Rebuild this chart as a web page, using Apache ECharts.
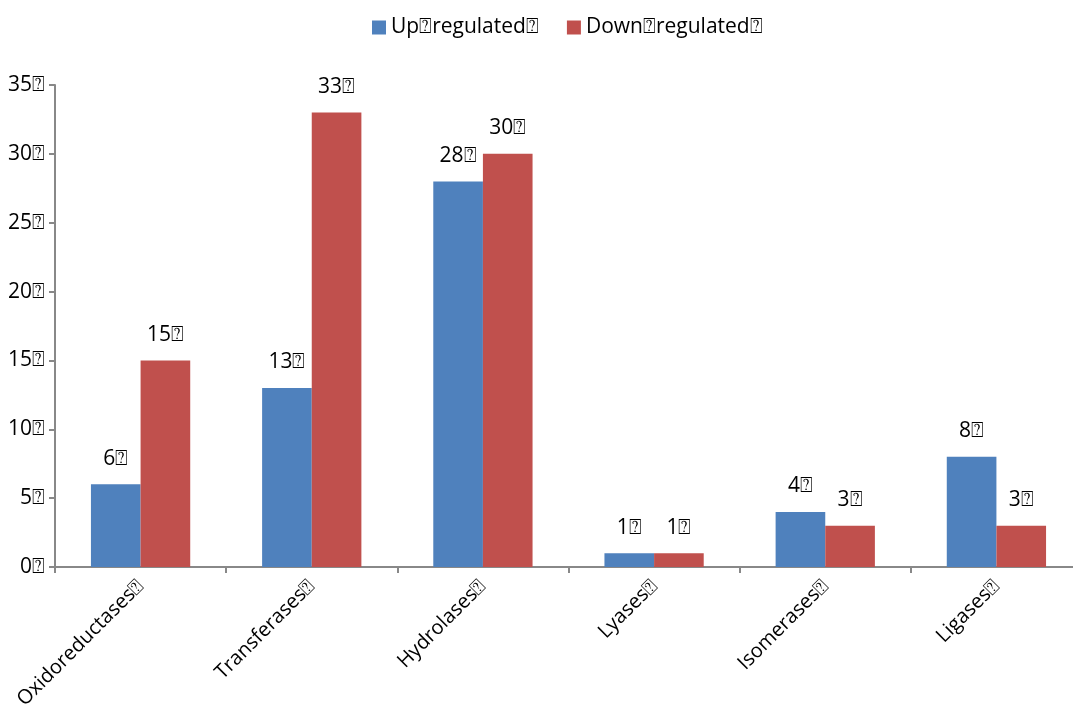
<!DOCTYPE html>
<html lang="en">
  <head>
    <meta charset="UTF-8" />
    <title>Enzyme classes</title>
    <style>
      body {
        margin: 0;
        width: 1073px;
        height: 724px;
        overflow: hidden;
        background-color: #ffffff;
      }
      /* the x axis runs past the right edge of the picture */
      #bar-1 {
        width: 1082px;
        height: 724px;
      }
    </style>
  </head>
  <body>
    <div id="bar-1"></div>
    <script src="https://cdn.jsdelivr.net/npm/echarts@6/dist/echarts.min.js"></script>
    <script>
      const box = "\u2370";
      const categories = ["Oxidoreductases", "Transferases", "Hydrolases", "Lyases", "Isomerases", "Ligases"];
      const upValues = [6, 13, 28, 1, 4, 8];
      const downValues = [15, 33, 30, 1, 3, 3];
      const seriesNames = ["Up" + box + "regulated" + box, "Down" + box + "regulated" + box];

      const font = "'Open Sans', 'DejaVu Sans', sans-serif";
      const axisColor = "#888888";

      const labelStyle = {
        show: true,
        position: "top",
        distance: 15,
        color: "#000",
        fontSize: 21,
        fontFamily: font,
        formatter: (p) => p.value + box,
      };

      const bar1 = echarts.init(document.querySelector("#bar-1"));
      bar1.setOption({
        animation: false,
        legend: {
          top: 12,
          left: 367,
          itemWidth: 14,
          itemHeight: 14,
          itemGap: 28,
          icon: "rect",
          textStyle: { fontSize: 21, fontFamily: font, color: "#000" },
          data: seriesNames,
        },
        grid: { left: 55, right: 0, top: 85, bottom: 157 },
        xAxis: {
          type: "category",
          data: categories,
          axisLine: { lineStyle: { color: axisColor, width: 2 } },
          axisTick: { show: true, length: 6, lineStyle: { color: axisColor, width: 2 } },
          axisLabel: {
            rotate: 45,
            interval: 0,
            margin: 16,
            fontSize: 20,
            fontFamily: font,
            color: "#000",
            formatter: (v) => v + box,
          },
        },
        yAxis: {
          type: "value",
          min: 0,
          max: 35,
          interval: 5,
          splitLine: { show: false },
          axisLine: { show: true, lineStyle: { color: axisColor, width: 2 } },
          axisTick: { show: true, length: 6, lineStyle: { color: axisColor, width: 2 } },
          axisLabel: {
            margin: 10,
            fontSize: 21,
            fontFamily: font,
            color: "#000",
            formatter: (v) => v + box,
          },
        },
        series: [
          {
            name: seriesNames[0],
            type: "bar",
            data: upValues,
            barGap: "0%",
            barCategoryGap: "42%",
            itemStyle: { color: "#4f81bd" },
            label: labelStyle,
          },
          {
            name: seriesNames[1],
            type: "bar",
            data: downValues,
            itemStyle: { color: "#c0504d" },
            label: labelStyle,
          },
        ],
      });
    </script>
  </body>
</html>
